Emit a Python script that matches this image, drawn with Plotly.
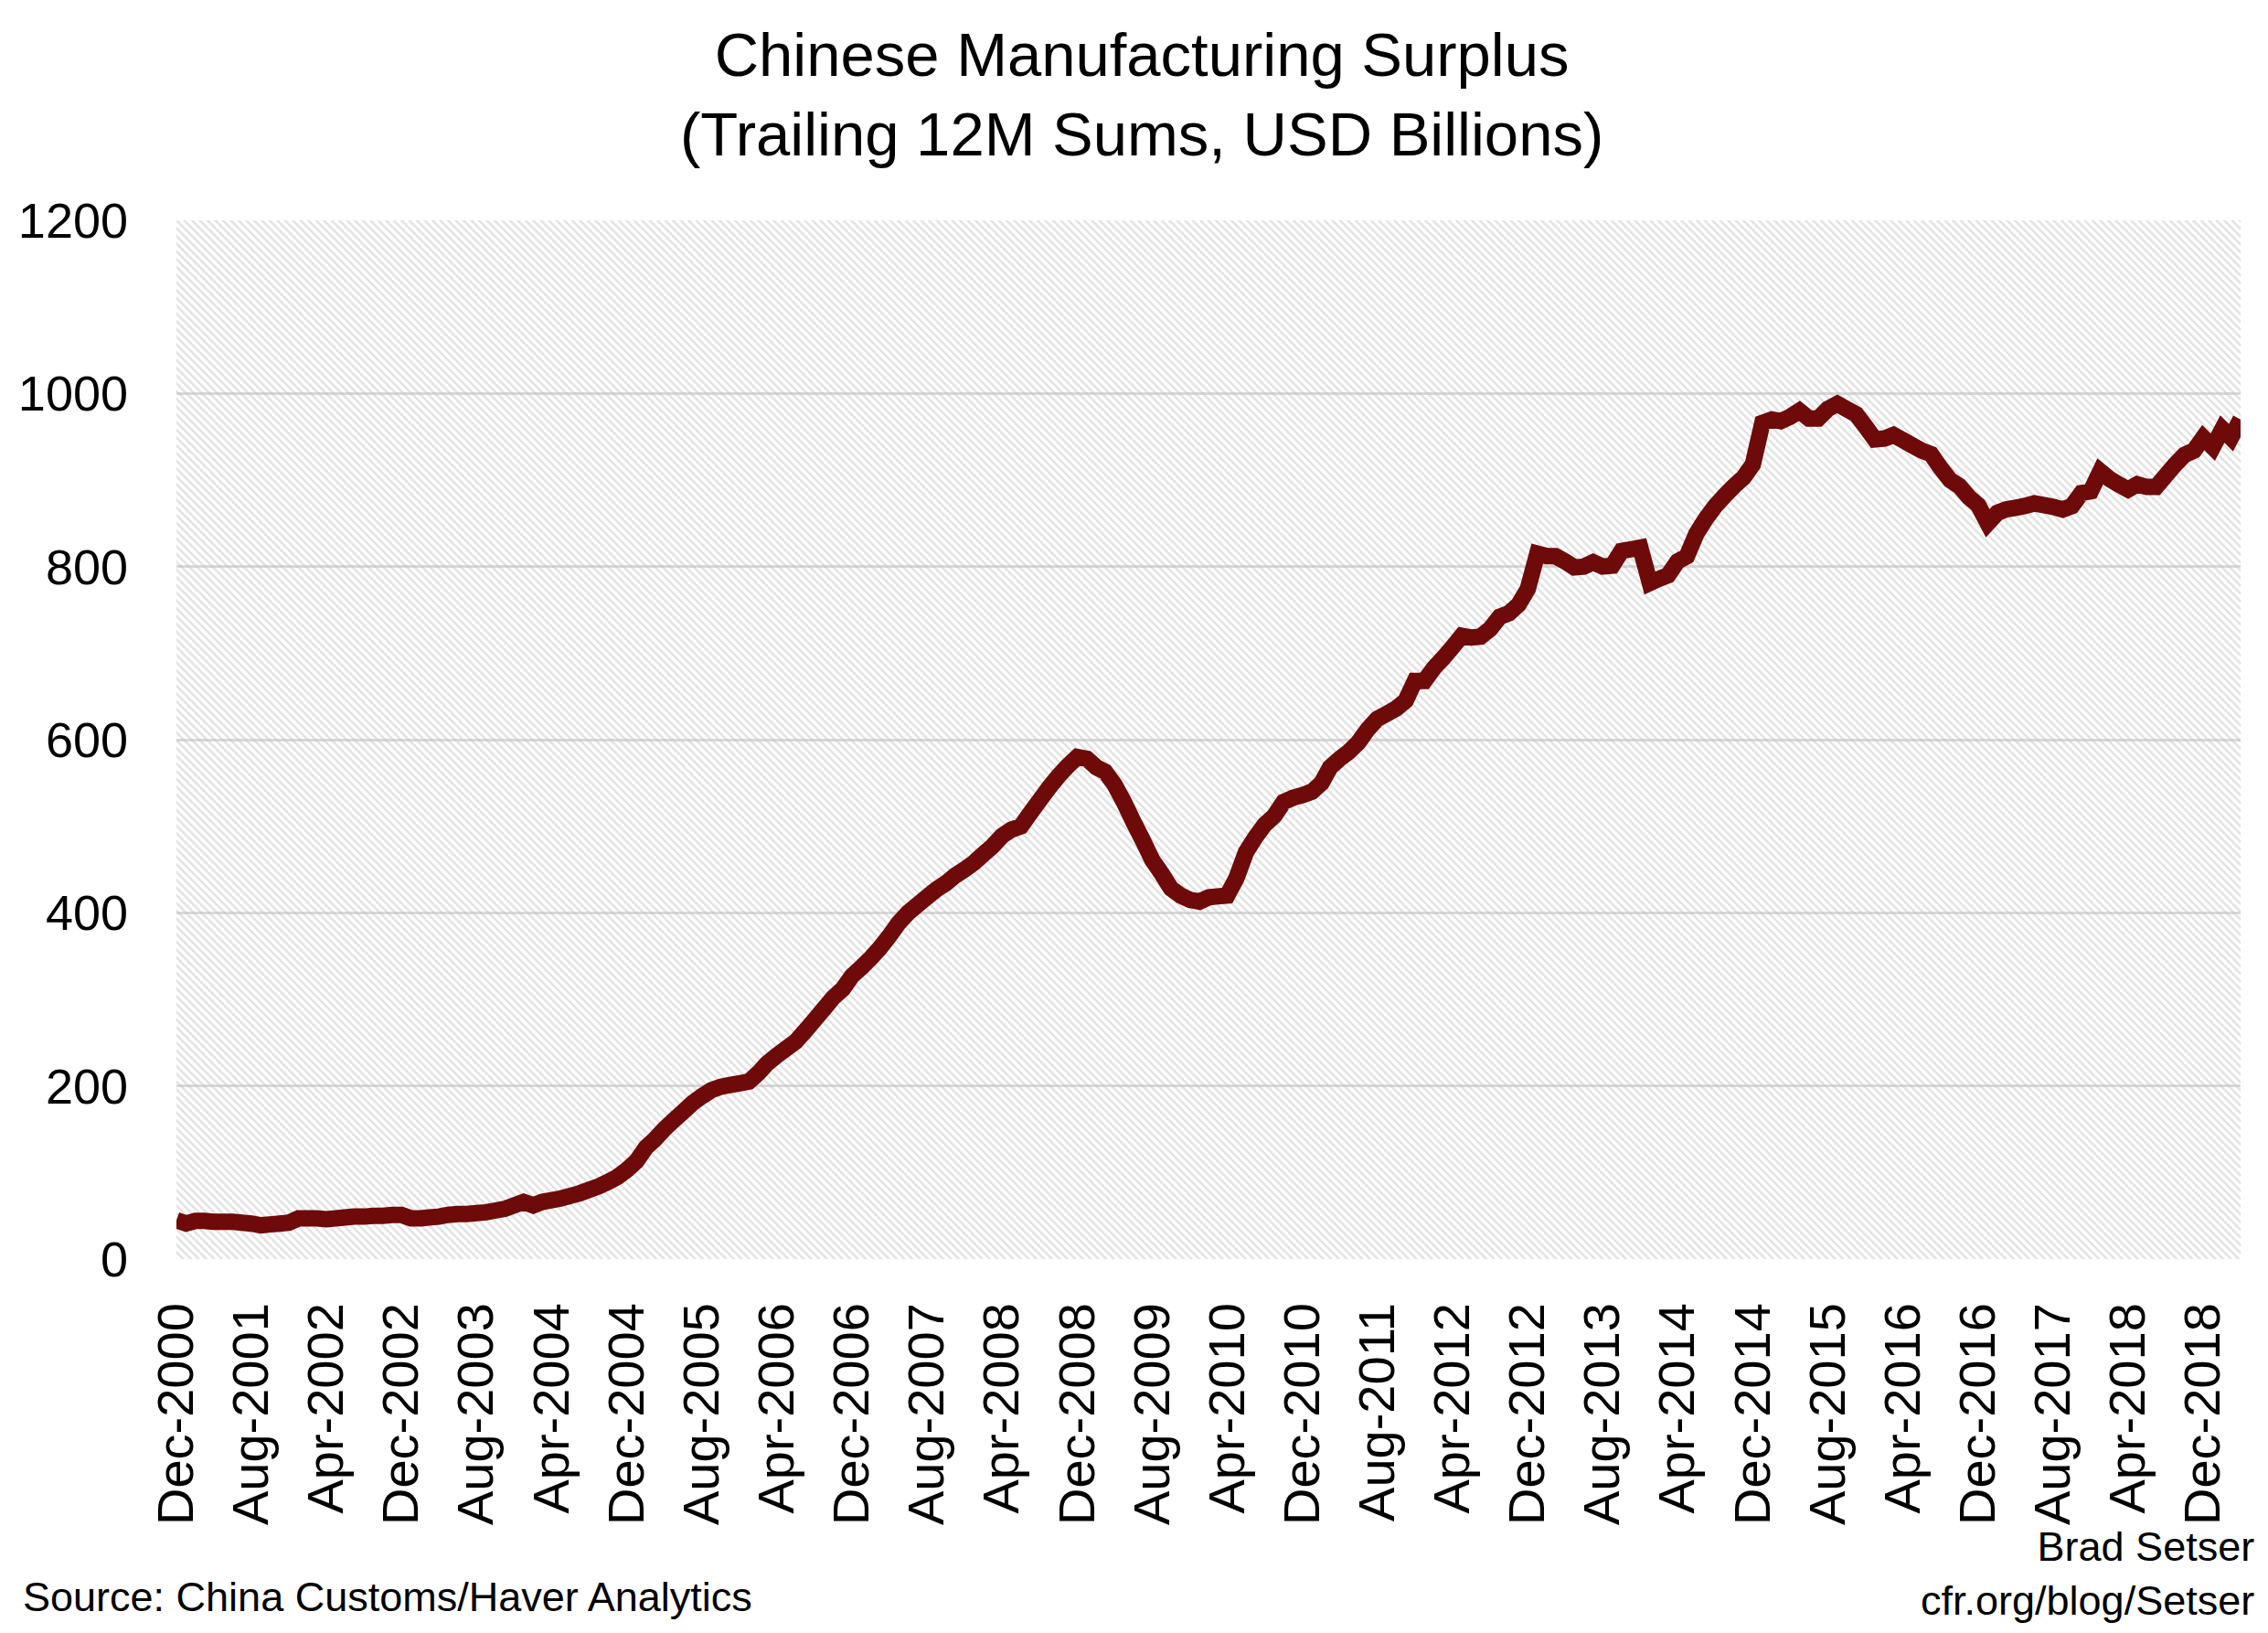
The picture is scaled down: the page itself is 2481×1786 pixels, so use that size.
import pandas as pd
import plotly.graph_objects as go

# Monthly trailing 12M manufacturing surplus, USD billions, Dec-2000 .. Apr-2019
start_month = "2000-12-01"
surplus = [
    45, 41, 44, 44, 43, 43, 43, 42, 41, 39, 40, 41,
    42, 47, 47, 47, 46, 47, 48, 49, 49, 50, 50, 51,
    51, 47, 47, 48, 49, 51, 52, 52, 53, 54, 56, 58,
    62, 66, 62, 66, 68, 70, 73, 76, 80, 84, 89, 95,
    103, 113, 129, 138, 150, 160, 170, 180, 188, 195, 199, 201,
    203, 205, 215, 226, 235, 243, 251, 263, 276, 289, 302, 312,
    327, 337, 348, 359, 373, 388, 400, 409, 418, 427, 434, 443,
    450, 458, 468, 477, 489, 496, 500, 515, 530, 545, 558, 570,
    580, 578, 568, 563, 548, 528, 505, 484, 461, 445, 428, 420,
    415, 413, 418, 419, 420, 440, 470, 487, 502, 512, 528, 533,
    536, 540, 550, 568, 578, 586, 597, 612, 624, 630, 636, 645,
    668, 668, 683, 694, 707, 720, 718, 719, 728, 742, 746, 756,
    774, 815, 812, 812, 806, 799, 800, 805, 800, 801, 818, 820,
    822, 781, 786, 790, 806, 812, 838, 855, 870, 882, 893, 903,
    918, 966, 970, 968, 973, 980, 971, 971, 982, 988, 982, 976,
    962, 947, 948, 952, 946, 940, 934, 930, 914, 900, 893, 880,
    871, 850, 862, 866, 868, 870, 873, 871, 869, 866, 870, 885,
    887, 910, 901, 895, 889, 895, 892, 892, 905, 918, 929, 934,
    949, 938, 959, 949, 970,
]
months = pd.date_range(start_month, periods=len(surplus), freq="MS")
tick_months = months[::8]
tick_labels = [d.strftime("%b-%Y") for d in tick_months]
y_ticks = [0, 200, 400, 600, 800, 1000, 1200]

title_text = "Chinese Manufacturing Surplus<br>(Trailing 12M Sums, USD Billions)"
source_text = "Source: China Customs/Haver Analytics"
credit_text = "Brad Setser<br>cfr.org/blog/Setser"

FONT = "Liberation Sans, Arial, sans-serif"

fig = go.Figure()

# hatched plot background (decoration spanning the axis ranges)
span = months[-1] - months[0]
fig.add_trace(go.Bar(
    x=[months[0] + span / 2], y=[y_ticks[-1]],
    width=[span.total_seconds() * 1000],
    marker=dict(color="rgba(0,0,0,0)", line=dict(width=0),
                pattern=dict(shape="\\", fgcolor="#c2c2c2", size=6,
                             solidity=0.4, fillmode="overlay")),
    hoverinfo="skip", showlegend=False,
))

fig.add_trace(go.Scatter(
    x=months, y=surplus, mode="lines",
    line=dict(color="#6e0a0a", width=18, simplify=False),
    showlegend=False,
))

fig.update_layout(
    width=2473, height=1778,
    margin=dict(l=179, r=30, t=233, b=409),
    paper_bgcolor="white", plot_bgcolor="white",
    font=dict(family=FONT, size=56, color="black"),
    bargap=0,
)
fig.update_xaxes(
    range=[months[0], months[-1]],
    tickvals=tick_months, ticktext=tick_labels, tickangle=-90,
    tickfont=dict(size=56), ticks="", showgrid=False, zeroline=False,
    showline=False, ticklabelstandoff=36,
)
fig.update_yaxes(
    range=[0, 1200], tickvals=y_ticks, ticks="",
    showgrid=True, gridcolor="#d9d9d9", gridwidth=3,
    zeroline=False, showline=False, tickfont=dict(size=54),
    ticklabelstandoff=52,
)

fig.add_annotation(text=title_text, xref="paper", yref="paper",
                   x=0.4675, y=1.1215, xanchor="center", yanchor="middle",
                   showarrow=False, font=dict(family=FONT, size=67, color="black"))
fig.add_annotation(text=source_text, xref="paper", yref="paper",
                   x=-0.0754, y=-0.325, xanchor="left", yanchor="middle",
                   showarrow=False, font=dict(family=FONT, size=45, color="black"))
fig.add_annotation(text=credit_text, xref="paper", yref="paper",
                   x=1.0075, y=-0.303, xanchor="right", yanchor="middle",
                   align="right", showarrow=False,
                   font=dict(family=FONT, size=45, color="black"))

fig.write_html("out.html")
